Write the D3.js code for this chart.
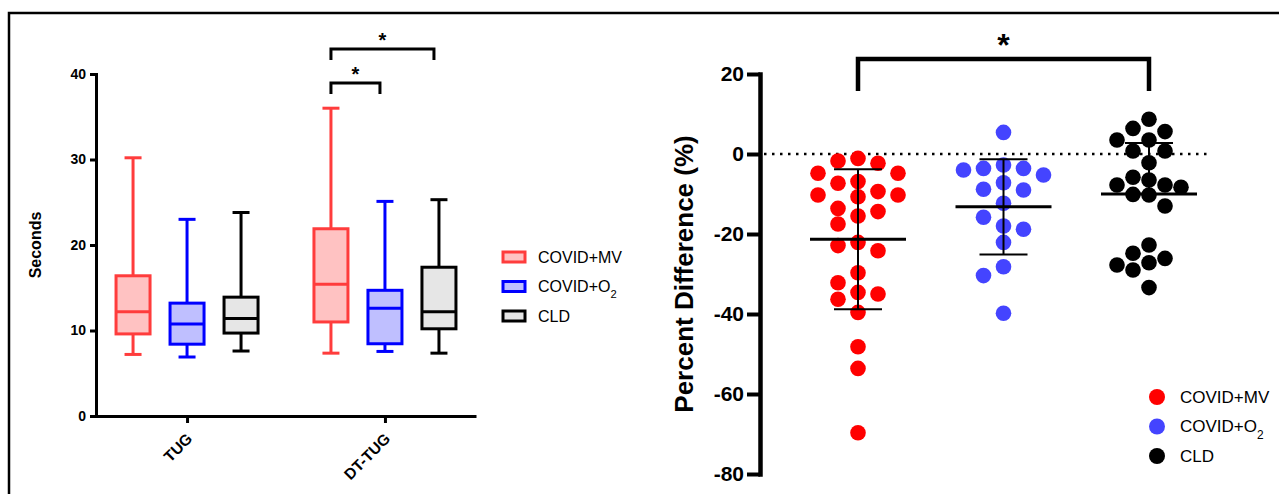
<!DOCTYPE html>
<meta charset="utf-8">
<style>
  body { margin: 0; background: white; }
  text { font-family: "Liberation Sans", Arial, sans-serif; }
</style>
<body>
<script src="https://d3js.org/d3.v7.min.js"></script>
<script>
var width = 1279, height = 494;

var groups = ["COVID+MV", "COVID+O2", "CLD"];
var tests = ["TUG", "DT-TUG"];
var secondsTicks = [0, 10, 20, 30, 40];

// box stats per group: [min, q1, median, q3, max]
var tugBoxes = [[7.2, 9.6, 12.2, 16.4, 30.2], [6.9, 8.4, 10.75, 13.2, 23.0], [7.6, 9.7, 11.4, 13.9, 23.8]];
var dtTugBoxes = [[7.35, 11.0, 15.4, 21.9, 36.0], [7.55, 8.45, 12.6, 14.7, 25.1], [7.35, 10.2, 12.2, 17.4, 25.3]];
// significant pairs on DT-TUG (group indexes)
var dtTugSig = [[0, 1], [0, 2]];

// percent difference per patient
var mvDiff = [-1.1, -2.3, -1.75, -4.8, -4.8, -6.9, -7.3, -9.4, -10.7, -10.25, -10.25, -13.6, -14.4, -15.5,
  -17.5, -24.2, -22.9, -22.1, -29.7, -32.2, -34.6, -36.3, -35.0, -39.6, -48.2, -53.6, -69.7];
var o2Diff = [5.4, -3.6, -4.0, -3.6, -2.75, -5.25, -8.8, -9.0, -7.2, -12.3, -15.8, -18.8, -18.0, -22.1,
  -28.2, -30.4, -39.8];
var cldDiff = [8.7, 5.6, 6.4, 3.5, 3.5, 0.75, 0.75, -2.2, -6.5, -5.8, -8.3, -7.75, -7.75, -10.25, -10.1,
  -13.0, -22.75, -26.1, -24.8, -27.75, -27.2, -29.0, -33.4];
var diffMean = [-21.3, -13.2, -10.0];
var diffSD = [17.5, 11.9, 12.75];
var diffLowerBar = [true, true, false];
var diffTicks = [20, 0, -20, -40, -60, -80];

var lineColor = ["#ff3c3c", "#0000ff", "#000000"];
var boxFill = ["#ffc2c2", "#bfbfff", "#e6e6e6"];
var dotColor = ["#ff0000", "#4444ff", "#000000"];

var svg = d3.select("body").append("svg")
  .attr("width", width)
  .attr("height", height)
  .style("background", "white");

// outer frame
svg.append("path")
  .attr("d", "M9," + height + "V13H" + width)
  .attr("fill", "none")
  .attr("stroke", "#000")
  .attr("stroke-width", 2.5);

/* ---------- left: box plots ---------- */
var y1 = d3.scaleLinear().domain([0, 40]).range([416, 74]);
var x1 = d3.scalePoint().domain(tests).range([96, 476]).padding(0.46);
var xg = d3.scalePoint().domain(groups).range([-54, 54]);
var boxW = 34;

var gy1 = svg.append("g")
  .attr("transform", "translate(96,0)")
  .call(d3.axisLeft(y1).tickValues(secondsTicks).tickSize(6).tickSizeOuter(0).tickPadding(4));
gy1.selectAll("path, line").attr("stroke", "#000").attr("stroke-width", 3);
gy1.select("path").attr("stroke-linecap", "square");
gy1.selectAll("text").style("font-size", "14px").style("font-weight", "bold").attr("fill", "#000");

var gx1 = svg.append("g")
  .attr("transform", "translate(0,416)")
  .call(d3.axisBottom(x1).tickSize(7).tickSizeOuter(0));
gx1.selectAll("path, line").attr("stroke", "#000").attr("stroke-width", 3);
gx1.selectAll("text")
  .attr("x", 0).attr("y", 0).attr("dy", "0.35em")
  .attr("text-anchor", "end")
  .attr("transform", "translate(2,20) rotate(-45)")
  .style("font-size", "15.5px").style("font-weight", "bold").attr("fill", "#000");

svg.append("text")
  .attr("transform", "translate(35,245) rotate(-90)")
  .attr("text-anchor", "middle")
  .attr("dy", "0.35em")
  .style("font-size", "16px")
  .style("font-weight", "bold")
  .text("Seconds");

var boxData = [];
[tugBoxes, dtTugBoxes].forEach(function(stats, t) {
  stats.forEach(function(s, i) {
    boxData.push({test: tests[t], gi: i, s: s, cx: x1(tests[t]) + xg(groups[i])});
  });
});

var boxes = svg.append("g").selectAll("g").data(boxData).join("g");
boxes.append("line")
  .attr("x1", d => d.cx).attr("x2", d => d.cx)
  .attr("y1", d => y1(d.s[0])).attr("y2", d => y1(d.s[4]))
  .attr("stroke", d => lineColor[d.gi]).attr("stroke-width", 3);
boxes.selectAll(".cap").data(d => [d.s[0], d.s[4]].map(v => ({v: v, d: d}))).join("line")
  .attr("class", "cap")
  .attr("x1", e => e.d.cx - 8.5).attr("x2", e => e.d.cx + 8.5)
  .attr("y1", e => y1(e.v)).attr("y2", e => y1(e.v))
  .attr("stroke", e => lineColor[e.d.gi]).attr("stroke-width", 3);
boxes.append("rect")
  .attr("x", d => d.cx - boxW / 2).attr("width", boxW)
  .attr("y", d => y1(d.s[3])).attr("height", d => y1(d.s[1]) - y1(d.s[3]))
  .attr("fill", d => boxFill[d.gi]).attr("stroke", d => lineColor[d.gi]).attr("stroke-width", 3);
boxes.append("line")
  .attr("x1", d => d.cx - boxW / 2).attr("x2", d => d.cx + boxW / 2)
  .attr("y1", d => y1(d.s[2])).attr("y2", d => y1(d.s[2]))
  .attr("stroke", d => lineColor[d.gi]).attr("stroke-width", 3);

// significance brackets
dtTugSig.forEach(function(p, k) {
  var xa = x1("DT-TUG") + xg(groups[p[0]]);
  var xb = x1("DT-TUG") + xg(groups[p[1]]) - 5;
  var yb = 83 - k * 34;
  svg.append("path")
    .attr("d", "M" + xa + "," + (yb + 11) + "V" + yb + "H" + xb + "V" + (yb + 11))
    .attr("fill", "none").attr("stroke", "#000").attr("stroke-width", 3);
  svg.append("text")
    .attr("x", (xa + xb) / 2).attr("y", yb - 2)
    .attr("text-anchor", "middle")
    .style("font-size", "20px").style("font-weight", "bold")
    .text("*");
});

// left legend
var leg1 = svg.append("g").selectAll("g").data(groups).join("g")
  .attr("transform", (d, i) => "translate(503," + (257 + i * 29.5) + ")");
leg1.append("rect")
  .attr("x", 0).attr("y", -5).attr("width", 22).attr("height", 10)
  .attr("fill", (d, i) => boxFill[i]).attr("stroke", (d, i) => lineColor[i]).attr("stroke-width", 3);
function legendLabel(sel) {
  sel.each(function(d) {
    var t = d3.select(this);
    if (d === "COVID+O2") {
      t.append("tspan").text("COVID+O");
      t.append("tspan").text("2").attr("baseline-shift", "sub").style("font-size", "0.7em");
    } else {
      t.text(d);
    }
  });
}
leg1.append("text")
  .attr("x", 35).attr("dy", "0.35em")
  .style("font-size", "16px")
  .call(legendLabel);

/* ---------- right: percent difference scatter ---------- */
var y2 = d3.scaleLinear().domain([-80, 20]).range([474, 74]);
var x2 = d3.scalePoint().domain(groups).range([858, 1149]);
var dotR = 7.8;

var gy2 = svg.append("g")
  .attr("transform", "translate(760,0)")
  .call(d3.axisLeft(y2).tickValues(diffTicks).tickFormat(d => String(d)).tickSize(13).tickSizeOuter(0).tickPadding(3));
gy2.select("path").attr("stroke", "#000").attr("stroke-width", 4.5).attr("stroke-linecap", "square");
gy2.selectAll("line").attr("stroke", "#000").attr("stroke-width", 4);
gy2.selectAll("text").style("font-size", "21px").style("font-weight", "bold").attr("fill", "#000");

svg.append("text")
  .attr("transform", "translate(684,274) rotate(-90)")
  .attr("text-anchor", "middle")
  .attr("dy", "0.35em")
  .style("font-size", "26px")
  .style("font-weight", "bold")
  .text("Percent Difference (%)");

// zero reference line
svg.append("line")
  .attr("x1", 764).attr("x2", 1212)
  .attr("y1", y2(0)).attr("y2", y2(0))
  .attr("stroke", "#000").attr("stroke-width", 2.5)
  .attr("stroke-dasharray", "2.5,5.5");

// simple column-scatter layout: top to bottom, nearest free slot to the centre
function swarm(values, step) {
  var placed = [];
  var order = values.map((v, i) => i).sort((a, b) => values[b] - values[a]);
  order.forEach(function(i) {
    var y = y2(values[i]);
    for (var k = 0; k < 40; k++) {
      var off = k === 0 ? 0 : (k % 2 ? -1 : 1) * Math.ceil(k / 2) * step;
      var hit = placed.some(p => Math.hypot(p.dx - off, p.y - y) < 2 * dotR - 0.6);
      if (!hit) { placed.push({dx: off, y: y, v: values[i]}); break; }
    }
  });
  return placed;
}

var series = [mvDiff, o2Diff, cldDiff];
var steps = [20, 20, 16];
series.forEach(function(vals, gi) {
  svg.append("g").selectAll("circle").data(swarm(vals, steps[gi])).join("circle")
    .attr("cx", d => x2(groups[gi]) + d.dx)
    .attr("cy", d => d.y)
    .attr("r", dotR)
    .attr("fill", dotColor[gi]);
});

// mean and SD
groups.forEach(function(g, gi) {
  var cx = x2(g);
  var hi = diffMean[gi] + diffSD[gi];
  var lo = diffLowerBar[gi] ? diffMean[gi] - diffSD[gi] : diffMean[gi];
  var eb = svg.append("g").attr("stroke", "#000");
  eb.append("line").attr("x1", cx - 48).attr("x2", cx + 48)
    .attr("y1", y2(diffMean[gi])).attr("y2", y2(diffMean[gi])).attr("stroke-width", 3);
  eb.append("line").attr("x1", cx).attr("x2", cx)
    .attr("y1", y2(hi)).attr("y2", y2(lo)).attr("stroke-width", 2);
  eb.append("line").attr("x1", cx - 24).attr("x2", cx + 24)
    .attr("y1", y2(hi)).attr("y2", y2(hi)).attr("stroke-width", 2);
  if (diffLowerBar[gi]) {
    eb.append("line").attr("x1", cx - 24).attr("x2", cx + 24)
      .attr("y1", y2(lo)).attr("y2", y2(lo)).attr("stroke-width", 2);
  }
});

// bracket MV vs CLD
var bx0 = x2(groups[0]), bx1 = x2(groups[2]);
svg.append("path")
  .attr("d", "M" + bx0 + ",91V59H" + bx1 + "V91")
  .attr("fill", "none").attr("stroke", "#000").attr("stroke-width", 4.5);
svg.append("text")
  .attr("x", (bx0 + bx1) / 2).attr("y", 56)
  .attr("text-anchor", "middle")
  .style("font-size", "32px").style("font-weight", "bold")
  .text("*");

// right legend
var leg2 = svg.append("g").selectAll("g").data(groups).join("g")
  .attr("transform", (d, i) => "translate(1157," + (397 + i * 29.5) + ")");
leg2.append("circle").attr("r", 8).attr("fill", (d, i) => dotColor[i]);
leg2.append("text")
  .attr("x", 23).attr("dy", "0.35em")
  .style("font-size", "17px")
  .call(legendLabel);
</script>
</body>
